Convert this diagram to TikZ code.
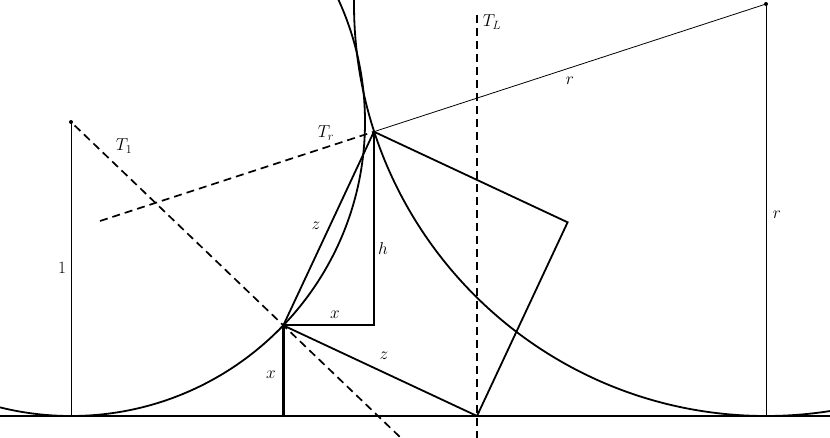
\documentclass[tikz,border=0pt]{standalone}
\begin{document}
\begin{tikzpicture}[x=1pt,y=-1pt,
  thinline/.style={line width=0.8pt},
  thickline/.style={line width=1.8pt},
  dashline/.style={line width=1.7pt, dash pattern=on 8pt off 5pt},
  lbl/.style={font=\LARGE, inner sep=1pt}]
\useasboundingbox (0,0) rectangle (830,438);
\clip (0,0) rectangle (830,438);
% points
\coordinate (C1) at (71,122);
\coordinate (G1) at (71,416);
\coordinate (C2) at (766,4);
\coordinate (G2) at (766,416);
\coordinate (P) at (283.3,325.4);
\coordinate (B) at (477,416);
\coordinate (Tr) at (373.9,131.7);
\coordinate (Q) at (567.6,222.3);
\coordinate (H) at (373.9,325.4);
\coordinate (F) at (283.3,416);
\coordinate (L0) at (0,416);
\coordinate (L1) at (830,416);
\coordinate (T1end) at (401,438);
\coordinate (Trend) at (100,221);
\coordinate (TLtop) at (477,15);
\coordinate (TLbot) at (477,438);
% circles
\draw[thickline] (C1) circle[radius=294pt];
\draw[thickline] (C2) circle[radius=412pt];
% ground
\draw[line width=2.2pt] (L0) -- (L1);
% thin radius lines
\draw[thinline] (C1) -- (G1);
\draw[thinline] (C2) -- (G2);
\draw[thinline] (C2) -- (Tr);
\fill (C1) circle[radius=2pt];
\fill (C2) circle[radius=2pt];
% dashed lines
\draw[dashline, dash phase=8pt] (C1) -- (T1end);
\draw[dashline] (Trend) -- (Tr);
\draw[dashline] (TLtop) -- (TLbot);
% square and construction
\draw[thickline, line join=miter] (P) -- (Tr) -- (Q) -- (B) -- cycle;
\draw[thickline] (P) -- (H) -- (Tr);
\draw[line width=3.5pt] (P) -- (F);
% labels
\node[lbl] (lT1) at (124,146) {$T_1$};
\node[lbl] (lTr) at (326,133) {$T_r$};
\node[lbl] (lTL) at (492,22) {$T_L$};
\node[lbl] (lr1) at (570,81) {$r$};
\node[lbl] (lr2) at (777,215) {$r$};
\node[lbl] (l1) at (62,268) {$1$};
\node[lbl] (lz1) at (316,226) {$z$};
\node[lbl] (lh) at (383,249) {$h$};
\node[lbl] (lx1) at (335,315) {$x$};
\node[lbl] (lz2) at (384,356) {$z$};
\node[lbl] (lx2) at (271,375) {$x$};
\end{tikzpicture}
\end{document}
